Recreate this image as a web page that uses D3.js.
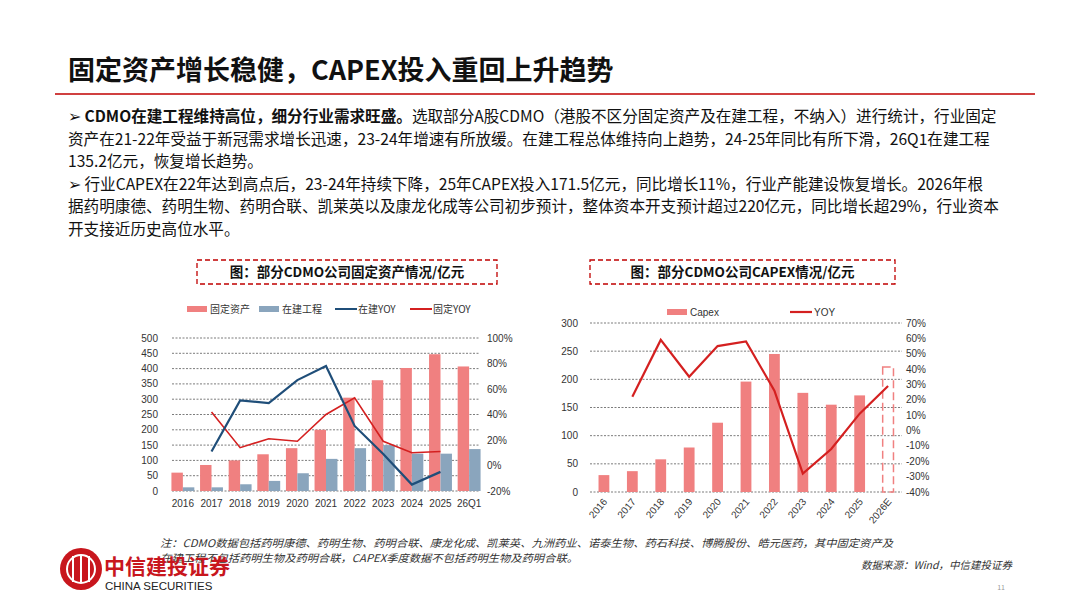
<!DOCTYPE html>
<html><head><meta charset="utf-8">
<script src="https://cdn.jsdelivr.net/npm/d3@7"></script>
<style>
body{margin:0;background:#fff;font-family:"Noto Sans CJK SC","Noto Sans",sans-serif;}
svg{display:block}
</style></head><body>
<svg id="c" width="1080" height="608"></svg>
<script>
const years1 = ["2016","2017","2018","2019","2020","2021","2022","2023","2024","2025","26Q1"];
const fixedAssets = [60,85,100,120,140,200,305,362,402,447,407];
const cip = [12,12,22,33,58,105,140,150,122,122,137];
const cipYoy = [null,11,51,49,67,78,31,9,-15,-5,null];
const fixedYoy = [null,42,14,21,19,40,53,19,10,11,null];

const years2 = ["2016","2017","2018","2019","2020","2021","2022","2023","2024","2025","2026E"];
const capex = [30,37,58,79,123,196,245,176,155,171.5,222];
const capexYoy = [null,22,59,35,55,58,26,-28,-12,11,29];

const svg = d3.select("#c");
const font = "'Noto Sans CJK SC',sans-serif";

// header
svg.append("text").attr("x",68).attr("y",80).attr("font-size",27).attr("font-weight","bold").attr("fill","#111").attr("font-family",font)
  .text("固定资产增长稳健，CAPEX投入重回上升趋势");
svg.append("line").attr("x1",55).attr("x2",1035).attr("y1",94).attr("y2",94).attr("stroke","#c00000").attr("stroke-width",1.5);

const para = [
  [{t:"➢  ",b:false},{t:"CDMO在建工程维持高位，细分行业需求旺盛。",b:true},{t:"选取部分A股CDMO（港股不区分固定资产及在建工程，不纳入）进行统计，行业固定",b:false}],
  [{t:"资产在21-22年受益于新冠需求增长迅速，23-24年增速有所放缓。在建工程总体维持向上趋势，24-25年同比有所下滑，26Q1在建工程",b:false}],
  [{t:"135.2亿元，恢复增长趋势。",b:false}],
  [{t:"➢  行业CAPEX在22年达到高点后，23-24年持续下降，25年CAPEX投入171.5亿元，同比增长11%，行业产能建设恢复增长。2026年根",b:false}],
  [{t:"据药明康德、药明生物、药明合联、凯莱英以及康龙化成等公司初步预计，整体资本开支预计超过220亿元，同比增长超29%，行业资本",b:false}],
  [{t:"开支接近历史高位水平。",b:false}]
];
para.forEach((line,i)=>{
  const t = svg.append("text").attr("x",68).attr("y",122+i*22.5)
    .attr("font-size",15.6).attr("fill","#111").attr("font-family",font);
  line.forEach(s=>t.append("tspan").attr("font-weight",s.b?"bold":"normal").text(s.t));
});

function titleBox(x,w,label){
  svg.append("rect").attr("x",x).attr("y",260).attr("width",w).attr("height",24).attr("fill","none")
    .attr("stroke","#c00000").attr("stroke-width",1.3).attr("stroke-dasharray","5,3");
  svg.append("text").attr("x",x+w/2).attr("y",277).attr("text-anchor","middle").attr("font-size",13.5)
    .attr("font-weight","bold").attr("font-family",font).attr("fill","#111").text(label);
}
titleBox(197,300,"图：部分CDMO公司固定资产情况/亿元");
titleBox(590,305,"图：部分CDMO公司CAPEX情况/亿元");

const pink = "#f08080", blue = "#8aa5bd", navy = "#1f4e79", red = "#d42020";

function grid(g,y,ticks,x0,x1){
  ticks.forEach(v=>g.append("line").attr("x1",x0).attr("x2",x1).attr("y1",y(v)).attr("y2",y(v))
    .attr("stroke","#444").attr("stroke-width",0.7).attr("stroke-dasharray","2,1.5"));
}
function axisText(g,x,y,txt,anchor){
  g.append("text").attr("x",x).attr("y",y+3.5).attr("text-anchor",anchor).attr("font-size",10).attr("fill","#333")
    .attr("font-family","Arial,Liberation Sans,sans-serif").text(txt);
}

// ---- chart 1
{
  const g = svg.append("g");
  const x = d3.scaleBand().domain(years1).range([170,482]).paddingInner(0.2).paddingOuter(0.05);
  const y = d3.scaleLinear().domain([0,500]).range([491,338]);
  const y2 = d3.scaleLinear().domain([-20,100]).range([491,338]);
  grid(g,y,d3.range(0,501,50),172,480);
  d3.range(0,501,50).forEach(v=>axisText(g,158,y(v),v,"end"));
  d3.range(-20,101,20).forEach(v=>axisText(g,487,y2(v),v+"%","start"));
  const bw = x.bandwidth()/2;
  g.selectAll(".fa").data(fixedAssets).join("rect").attr("x",(d,i)=>x(years1[i])).attr("y",d=>y(d))
    .attr("width",bw).attr("height",d=>y(0)-y(d)).attr("fill",pink);
  g.selectAll(".ci").data(cip).join("rect").attr("x",(d,i)=>x(years1[i])+bw).attr("y",d=>y(d))
    .attr("width",bw).attr("height",d=>y(0)-y(d)).attr("fill",blue);
  const cx = i=>x(years1[i])+x.bandwidth()/2;
  const ln = d3.line().defined(d=>d!=null).x((d,i)=>cx(i)).y(d=>y2(d));
  g.append("path").attr("d",ln(fixedYoy)).attr("fill","none").attr("stroke",red).attr("stroke-width",1.6);
  g.append("path").attr("d",ln(cipYoy)).attr("fill","none").attr("stroke",navy).attr("stroke-width",2.2);
  years1.forEach((t,i)=>g.append("text").attr("x",cx(i)).attr("y",507).attr("text-anchor","middle").attr("font-size",10)
    .attr("fill","#333").attr("font-family","Arial,Liberation Sans,sans-serif").text(t));
  const leg = [["固定资产","bar",pink,187],["在建工程","bar",blue,259],["在建YOY","line",navy,335],["固定YOY","line",red,410]];
  leg.forEach(([t,k,c,lx])=>{
    if(k==="bar") g.append("rect").attr("x",lx).attr("y",306).attr("width",20).attr("height",6).attr("fill",c);
    else g.append("line").attr("x1",lx).attr("x2",lx+22).attr("y1",309).attr("y2",309).attr("stroke",c).attr("stroke-width",2);
    g.append("text").attr("x",lx+23).attr("y",313).attr("font-size",10).attr("font-family",font).attr("fill","#333").text(t);
  });
}

// ---- chart 2
{
  const g = svg.append("g");
  const x = d3.scaleBand().domain(years2).range([590,902]).paddingInner(0.62).paddingOuter(0.3);
  const y = d3.scaleLinear().domain([0,300]).range([492,323]);
  const y2 = d3.scaleLinear().domain([-40,70]).range([492,323]);
  grid(g,y,d3.range(0,301,50),590,902);
  d3.range(0,301,50).forEach(v=>axisText(g,578,y(v),v,"end"));
  d3.range(-40,71,10).forEach(v=>axisText(g,906,y2(v),v+"%","start"));
  const n = capex.length;
  g.selectAll(".cb").data(capex.slice(0,n-1)).join("rect").attr("x",(d,i)=>x(years2[i])).attr("y",d=>y(d))
    .attr("width",x.bandwidth()).attr("height",d=>y(0)-y(d)).attr("fill",pink);
  g.append("rect").attr("x",x(years2[n-1])).attr("y",y(capex[n-1])).attr("width",x.bandwidth())
    .attr("height",y(0)-y(capex[n-1])).attr("fill","none").attr("stroke",pink).attr("stroke-width",1.5).attr("stroke-dasharray","8,4");
  const cx = i=>x(years2[i])+x.bandwidth()/2;
  const ln = d3.line().defined(d=>d!=null).x((d,i)=>cx(i)).y(d=>y2(d));
  g.append("path").attr("d",ln(capexYoy)).attr("fill","none").attr("stroke",red).attr("stroke-width",2.2);
  years2.forEach((t,i)=>g.append("text").attr("transform",`translate(${cx(i)+4},${502}) rotate(-50)`)
    .attr("text-anchor","end").attr("font-size",10).attr("fill","#333").attr("font-family","Arial,Liberation Sans,sans-serif").text(t));
  g.append("rect").attr("x",667).attr("y",309).attr("width",20).attr("height",6).attr("fill",pink);
  g.append("text").attr("x",690).attr("y",316).attr("font-size",10).attr("font-family","Arial,sans-serif").attr("fill","#333").text("Capex");
  g.append("line").attr("x1",790).attr("x2",812).attr("y1",312).attr("y2",312).attr("stroke",red).attr("stroke-width",2.2);
  g.append("text").attr("x",814).attr("y",316).attr("font-size",10).attr("font-family","Arial,sans-serif").attr("fill","#333").text("YOY");
}

// footer
svg.append("text").attr("x",160).attr("y",547).attr("font-size",10.5).attr("font-style","italic").attr("fill","#333").attr("font-family",font)
  .attr("textLength",733).attr("lengthAdjust","spacingAndGlyphs")
  .text("注：CDMO数据包括药明康德、药明生物、药明合联、康龙化成、凯莱英、九洲药业、诺泰生物、药石科技、博腾股份、皓元医药，其中固定资产及");
svg.append("text").attr("x",160).attr("y",562).attr("font-size",10.5).attr("font-style","italic").attr("fill","#333").attr("font-family",font)
  .attr("textLength",418).attr("lengthAdjust","spacingAndGlyphs")
  .text("在建工程不包括药明生物及药明合联，CAPEX季度数据不包括药明生物及药明合联。");
svg.append("text").attr("x",1012).attr("y",569).attr("text-anchor","end").attr("font-size",10.5).attr("font-style","italic").attr("fill","#333").attr("font-family",font)
  .text("数据来源：Wind，中信建投证券");
svg.append("text").attr("x",1005).attr("y",590).attr("text-anchor","end").attr("font-size",7).attr("fill","#999").text("11");
// logo
const lg = svg.append("g");
lg.append("circle").attr("cx",81).attr("cy",569).attr("r",21).attr("fill","#c8161d");
[-8,0,8].forEach(d=>lg.append("line").attr("x1",81+d).attr("x2",81+d).attr("y1",556).attr("y2",582).attr("stroke","#fff").attr("stroke-width",2));
lg.append("circle").attr("cx",81).attr("cy",569).attr("r",14).attr("fill","none").attr("stroke","#fff").attr("stroke-width",2);
lg.append("text").attr("x",104).attr("y",574).attr("font-size",21).attr("font-weight","bold").attr("fill","#c8161d").attr("font-family","'Noto Sans CJK SC',serif").text("中信建投证券");
lg.append("text").attr("x",105).attr("y",590).attr("font-size",11.5).attr("fill","#222").attr("font-family","Liberation Sans Narrow,Arial,sans-serif").text("CHINA SECURITIES");
</script>
</body></html>
